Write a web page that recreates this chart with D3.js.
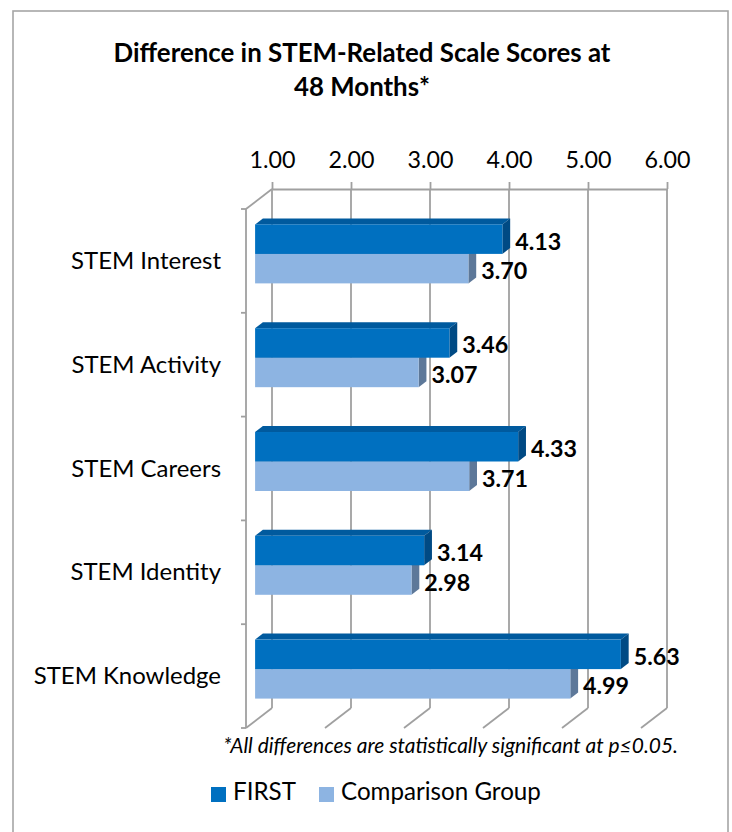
<!DOCTYPE html>
<html>
<head>
<meta charset="utf-8">
<script src="https://cdn.jsdelivr.net/npm/d3@7"></script>
<style>
  html, body { margin: 0; padding: 0; background: #fff; }
  svg { display: block; }
  text { font-family: Lato, "Open Sans", "Liberation Sans", sans-serif; fill: #000; }
</style>
</head>
<body>
<svg id="chart" width="732" height="832"></svg>
<script>
// ---- data ----
const categories = ["STEM Interest", "STEM Activity", "STEM Careers", "STEM Identity", "STEM Knowledge"];
const firstValues = [4.13, 3.46, 4.33, 3.14, 5.63];
const comparisonValues = [3.70, 3.07, 3.71, 2.98, 4.99];
const seriesNames = ["FIRST", "Comparison Group"];
const tickValues = [1, 2, 3, 4, 5, 6];
const titleLines = ["Difference in STEM-Related Scale Scores at", "48 Months*"];
const footnote = "*All differences are statistically significant at p\u22640.05.";

// ---- layout ----
const backLeft = 272, backRight = 667, backTop = 189, backBottom = 708;
const depthDX = -26, depthDY = 20;        // offset from back wall to front plane
const barFront = 0.65, barBack = 0.35;    // bar depth fractions
const gridColor = "#a0a0a0";
const colors = {
  "FIRST": { front: "#0070c0", top: "#005a9e", side: "#004a84" },
  "Comparison Group": { front: "#8db4e2", top: "#6f8fb5", side: "#5d7899" }
};

const svg = d3.select("#chart");

// frame
svg.append("rect").attr("x", 13).attr("y", 11).attr("width", 715).attr("height", 840)
  .attr("fill", "#fff").attr("stroke", "#a6a6a6").attr("stroke-width", 1.6);

const x = d3.scaleLinear().domain([1, 6]).range([backLeft, backRight]);
const y = d3.scaleBand().domain(categories).range([backTop, backBottom]);
const ySeries = d3.scaleBand().domain(seriesNames).range([0, y.bandwidth()]).paddingInner(0).paddingOuter(0.76);

function proj(px, py, f) { return [px + depthDX * f, py + depthDY * f]; }

// helper: fit font size so text gets the target width
function fit(sel, target) {
  const node = sel.node();
  const fs = parseFloat(sel.attr("font-size"));
  const w = node.getComputedTextLength();
  sel.attr("font-size", (fs * target / w).toFixed(2));
  return fs * target / w;
}

// ---- title ----
const t1 = svg.append("text").attr("x", 362).attr("y", 62).attr("text-anchor", "middle")
  .attr("font-weight", "bold").attr("font-size", 22).text(titleLines[0]);
const titleSize = fit(t1, 497);
svg.append("text").attr("x", 362).attr("y", 96).attr("text-anchor", "middle")
  .attr("font-weight", "bold").attr("font-size", titleSize).text(titleLines[1]);

// ---- back wall gridlines ----
const grid = svg.append("g").attr("stroke", gridColor).attr("stroke-width", 1.8).attr("fill", "none");
grid.selectAll("line.v").data(tickValues).join("line").attr("class", "v")
  .attr("x1", d => x(d)).attr("x2", d => x(d)).attr("y1", backTop).attr("y2", backBottom);
// floor lines
grid.selectAll("line.f").data(tickValues).join("line").attr("class", "f")
  .attr("x1", d => x(d)).attr("y1", backBottom)
  .attr("x2", d => proj(x(d), backBottom, 1)[0]).attr("y2", d => proj(x(d), backBottom, 1)[1]);
// left wall: top diagonal and front vertical axis
grid.append("line").attr("x1", x(1)).attr("y1", backTop)
  .attr("x2", proj(x(1), backTop, 1)[0]).attr("y2", proj(x(1), backTop, 1)[1]);
grid.append("line").attr("x1", proj(x(1), backTop, 1)[0]).attr("y1", proj(x(1), backTop, 1)[1])
  .attr("x2", proj(x(1), backBottom, 1)[0]).attr("y2", proj(x(1), backBottom, 1)[1]);
// category ticks on front-left axis
const boundaries = categories.map(c => y(c)).concat([backBottom]);
grid.selectAll("line.ct").data(boundaries).join("line").attr("class", "ct")
  .attr("x1", d => proj(x(1), d, 1)[0] - 5).attr("x2", d => proj(x(1), d, 1)[0])
  .attr("y1", d => proj(x(1), d, 1)[1]).attr("y2", d => proj(x(1), d, 1)[1]);

// ---- top value axis ----
const axis = d3.axisTop(x).tickValues(tickValues).tickFormat(d3.format(".2f"))
  .tickSizeInner(7).tickSizeOuter(0).tickPadding(14);
const gAxis = svg.append("g").attr("transform", `translate(0,${backTop})`).call(axis);
gAxis.attr("font-family", null).attr("font-size", null);
gAxis.select(".domain").attr("stroke", gridColor).attr("stroke-width", 1.8);
gAxis.selectAll(".tick line").attr("stroke", gridColor).attr("stroke-width", 1.8);
gAxis.selectAll(".tick text").attr("font-size", 22).attr("fill", "#000");
{
  const s = fit(gAxis.select(".tick text"), 46);
  gAxis.selectAll(".tick text").attr("font-size", s);
}

// ---- bars ----
const barData = [];
categories.forEach((c, i) => {
  // comparison first so the FIRST bar covers its hidden faces
  barData.push({ cat: c, series: "Comparison Group", v: comparisonValues[i] });
  barData.push({ cat: c, series: "FIRST", v: firstValues[i] });
});

function pts(arr) { return arr.map(p => p.join(",")).join(" "); }
const bar = svg.append("g").selectAll("g.bar").data(barData).join("g").attr("class", "bar");
bar.each(function(d) {
  const g = d3.select(this);
  const y0 = y(d.cat) + ySeries(d.series);
  const y1 = y0 + ySeries.bandwidth();
  const xs = x(1), xe = x(d.v);
  const c = colors[d.series];
  g.append("polygon").attr("fill", c.top).attr("points", pts([
    proj(xs, y0, barFront), proj(xe, y0, barFront), proj(xe, y0, barBack), proj(xs, y0, barBack)]));
  g.append("polygon").attr("fill", c.side).attr("points", pts([
    proj(xe, y0, barFront), proj(xe, y0, barBack), proj(xe, y1, barBack), proj(xe, y1, barFront)]));
  const [fx0, fy0] = proj(xs, y0, barFront);
  const [fx1, fy1] = proj(xe, y1, barFront);
  g.append("rect").attr("fill", c.front).attr("x", fx0).attr("y", fy0)
    .attr("width", fx1 - fx0).attr("height", fy1 - fy0);
});

// ---- data labels ----
const lab = svg.append("g").attr("font-weight", "bold").selectAll("text").data(barData).join("text")
  .attr("font-size", 22)
  .attr("x", d => proj(x(d.v), 0, barBack)[0] + 5)
  .attr("y", d => {
    const yc = y(d.cat) + ySeries(d.series) + ySeries.bandwidth() / 2;
    return proj(0, yc, barFront)[1] + 10.5;
  })
  .text(d => d3.format(".2f")(d.v));
{
  const s = fit(lab.filter(d => d.cat === categories[0] && d.series === "FIRST"), 46);
  lab.attr("font-size", s);
}

// ---- category labels ----
const catLab = svg.append("g").selectAll("text").data(categories).join("text")
  .attr("text-anchor", "end").attr("font-size", 22)
  .attr("x", 221)
  .attr("y", d => proj(0, y(d) + y.bandwidth() / 2, 1)[1] + 8)
  .text(d => d);
{
  const s = fit(catLab.filter((d, i) => i === 0), 150);
  catLab.attr("font-size", s);
}

// ---- footnote ----
const fn = svg.append("text").attr("x", 678).attr("y", 753).attr("text-anchor", "end")
  .attr("font-style", "italic").attr("font-size", 16).text(footnote);
fit(fn, 455);

// ---- legend ----
const legendX = [211, 319];
const lg = svg.append("g").selectAll("g").data(seriesNames).join("g")
  .attr("transform", (d, i) => `translate(${legendX[i]},787)`);
lg.append("rect").attr("width", 15).attr("height", 15).attr("fill", d => colors[d].front);
const lgText = lg.append("text").attr("x", 22).attr("y", 13).attr("font-size", 22).text(d => d);
{
  const s = fit(lgText.filter((d, i) => i === 1), 200);
  lgText.attr("font-size", s);
}
</script>
</body>
</html>
